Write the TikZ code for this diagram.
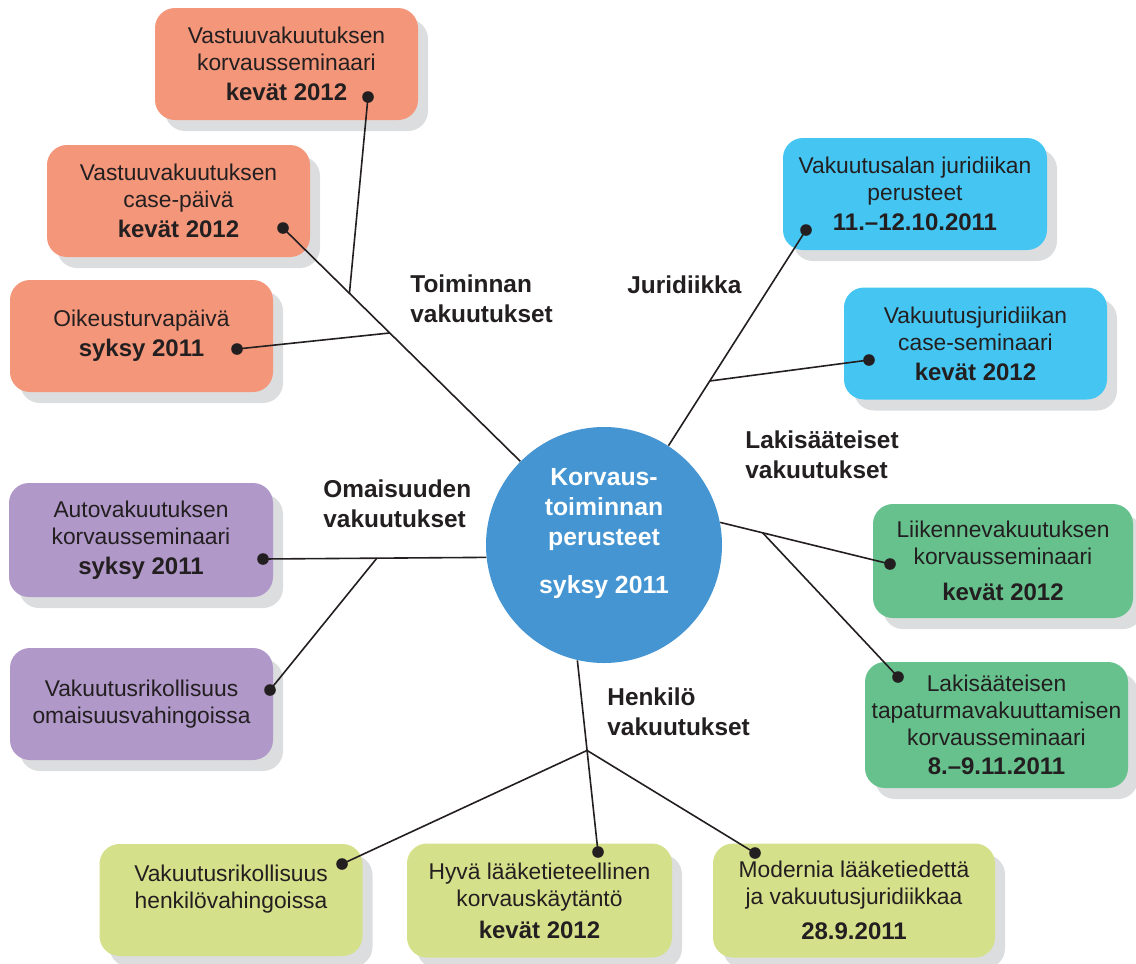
\documentclass[tikz,border=0pt]{standalone}
\usepackage{fontspec}
\setmainfont{Liberation Sans}
\usepackage{xcolor}
\usepackage{tikz}
\usetikzlibrary{shadows,calc}

\definecolor{orangebox}{HTML}{F4967A}
\definecolor{bluebox}{HTML}{45C6F2}
\definecolor{greenbox}{HTML}{66C18D}
\definecolor{purplebox}{HTML}{B098C9}
\definecolor{limebox}{HTML}{D4E18A}
\definecolor{hubblue}{HTML}{4495D1}
\definecolor{shadowgray}{HTML}{DCDDDE}
\definecolor{ink}{HTML}{231F20}

\newcommand{\season}[1]{{\fontsize{12}{13.5}\selectfont\bfseries #1}}

\begin{document}
\begin{tikzpicture}[
    x=0.5pt, y=-0.5pt,
    box/.style={rectangle, rounded corners=10pt, minimum width=131.5pt, minimum height=56pt, inner sep=0pt, align=center, text=ink, font=\fontsize{11.4}{13.5}\selectfont, general shadow={fill=shadowgray, shadow xshift=5pt, shadow yshift=-5.5pt}},
    hub/.style={circle, fill=hubblue, minimum size=118pt, inner sep=0pt},
    hubtext/.style={align=center, text=white, inner sep=0pt, font=\fontsize{12.4}{15}\selectfont\bfseries},
    topic/.style={anchor=west, align=left, inner sep=0pt, text=ink, font=\fontsize{12.2}{15}\selectfont\bfseries},
    link/.style={draw=ink, line width=0.8pt},
    dot/.style={fill=ink}
]
  \useasboundingbox (0,0) rectangle (1136,964);

  % Centre
  \node[hub] (hub) at (604,545) {};
  \node[hubtext] (hubtxt) at ([yshift=5.5pt]hub.center) {Korvaus-\\toiminnan\\perusteet\\[9pt]syksy 2011};

  % Toiminnan vakuutukset
  \node[box, fill=orangebox] (vastsem) at (286.5,64) {Vastuuvakuutuksen\\korvausseminaari\\[1.5pt]\season{kevät 2012}};
  \node[box, fill=orangebox] (vastcase) at (178.5,201) {Vastuuvakuutuksen\\case-päivä\\[1.5pt]\season{kevät 2012}};
  \node[box, fill=orangebox] (oikeus) at (141.5,336) {Oikeusturvapäivä\\[1.5pt]\season{syksy 2011}};

  % Juridiikka
  \node[box, fill=bluebox, minimum width=132pt] (jurper) at (915,194) {Vakuutusalan juridiikan\\perusteet\\[1.5pt]\season{11.–12.10.2011}};
  \node[box, fill=bluebox] (jurcase) at (975.5,343.5) {Vakuutusjuridiikan\\case-seminaari\\[1.5pt]\season{kevät 2012}};

  % Lakisääteiset vakuutukset
  \node[box, fill=greenbox, minimum width=130pt, minimum height=57pt] (liikenne) at (1003,561) {Liikennevakuutuksen\\korvausseminaari\\[4.5pt]\season{kevät 2012}};
  \node[box, fill=greenbox, minimum height=63pt] (tapat) at (996.5,725) {Lakisääteisen\\tapaturmavakuuttamisen\\korvausseminaari\\[1pt]\season{8.–9.11.2011}};

  % Omaisuuden vakuutukset
  \node[box, fill=purplebox, minimum width=132pt, minimum height=57pt] (auto) at (141,540) {Autovakuutuksen\\korvausseminaari\\[1.5pt]\season{syksy 2011}};
  \node[box, fill=purplebox] (omrik) at (141.5,704) {Vakuutusrikollisuus\\omaisuusvahingoissa};

  % Henkilö vakuutukset
  \node[box, fill=limebox] (henrik) at (231,900) {Vakuutusrikollisuus\\henkilövahingoissa\\\mbox{}};
  \node[box, fill=limebox, minimum width=132.5pt, minimum height=57pt] (hyva) at (539.5,900.5) {Hyvä lääketieteellinen\\korvauskäytäntö\\[2.5pt]\season{kevät 2012}};
  \node[box, fill=limebox, minimum width=141pt, minimum height=57pt] (modern) at (854,900.5) {Modernia lääketiedettä\\ja vakuutusjuridiikkaa\\[4pt]\season{28.9.2011}};

  % Group labels
  \node[topic] (toim) at (410,299) {Toiminnan\\vakuutukset};
  \node[topic] (jur) at (627,285) {Juridiikka};
  \node[topic] (laki) at (745,455) {Lakisääteiset\\vakuutukset};
  \node[topic] (omai) at (323,504) {Omaisuuden\\vakuutukset};
  \node[topic] (henk) at (607,712) {Henkilö\\vakuutukset};

  % Dots on the boxes
  \coordinate (d-vastsem) at (368,97);
  \coordinate (d-vastcase) at (283,228);
  \coordinate (d-oikeus) at (237,349);
  \coordinate (d-jurper) at (806,230);
  \coordinate (d-jurcase) at (869,360);
  \coordinate (d-liikenne) at (890,564);
  \coordinate (d-tapat) at (898,677);
  \coordinate (d-auto) at (263,559);
  \coordinate (d-omrik) at (270,690);
  \coordinate (d-henrik) at (342,864);
  \coordinate (d-hyva) at (598,852);
  \coordinate (d-modern) at (755,853);

  % Branch points
  \coordinate (b-toim1) at ($(hub.135.3)!0.72!(d-vastcase)$);
  \coordinate (b-toim2) at ($(hub.135.3)!0.55!(d-vastcase)$);
  \coordinate (b-jur) at ($(hub.57.5)!0.30!(d-jurper)$);
  \coordinate (b-laki) at ($(hub.11.2)!0.25!(d-liikenne)$);
  \coordinate (b-omai) at ($(hub.186.8)!0.49!(d-auto)$);
  \coordinate (b-henk) at ($(hub.257.5)!0.47!(d-hyva)$);

  % Connectors
  \draw[link] (hub.135.3) -- (d-vastcase);
  \draw[link] (b-toim1) -- (d-vastsem);
  \draw[link] (b-toim2) -- (d-oikeus);
  \draw[link] (hub.57.5) -- (d-jurper);
  \draw[link] (b-jur) -- (d-jurcase);
  \draw[link] (hub.11.2) -- (d-liikenne);
  \draw[link] (b-laki) -- (d-tapat);
  \draw[link] (hub.186.8) -- (d-auto);
  \draw[link] (b-omai) -- (d-omrik);
  \draw[link] (hub.257.5) -- (d-hyva);
  \draw[link] (b-henk) -- (d-henrik);
  \draw[link] (b-henk) -- (d-modern);

  \foreach \d in {vastsem,vastcase,oikeus,jurper,jurcase,liikenne,tapat,auto,omrik,henrik,hyva,modern}
    \fill[dot] (d-\d) circle (2.9pt);
\end{tikzpicture}
\end{document}
